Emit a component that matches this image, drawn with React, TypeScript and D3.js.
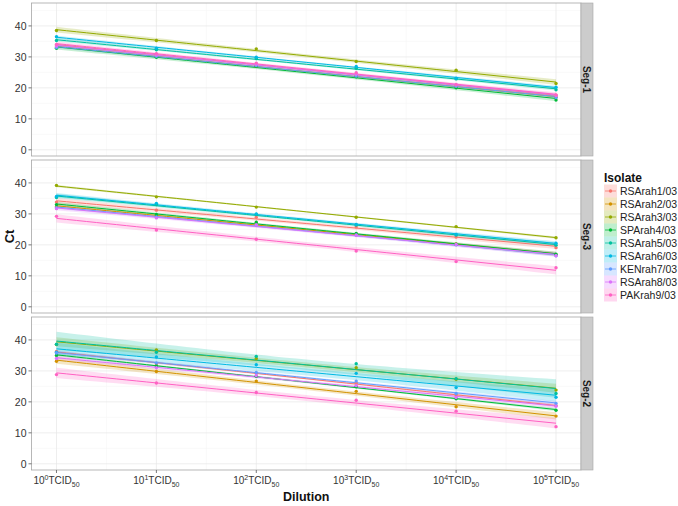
import React from "react";
import * as d3 from "d3";

const DILUTION_EXP = [0, 1, 2, 3, 4, 5];
const TICK_EXP = ["0", "1", "2", "3", "4", "5"];
const Y_TICKS = [0, 10, 20, 30, 40];
const ISOLATES = [
  "RSArah1/03", "RSArah2/03", "RSArah3/03", "SPArah4/03", "RSArah5/03",
  "RSArah6/03", "KENrah7/03", "RSArah8/03", "PAKrah9/03",
];
const COLORS = [
  "#F8766D", "#D39200", "#93AA00", "#00BA38", "#00C19F",
  "#00B9E3", "#619CFF", "#DB72FB", "#FF61C3",
];
const SEGMENTS = ["Seg-1", "Seg-3", "Seg-2"];

// Ct values per isolate at dilutions 10^0..10^5
const seg1Ct = [
  [33.8, 30.8, 27.5, 24.3, 20.8, 17.6],
  [33.2, 30.2, 27.0, 23.8, 20.4, 17.0],
  [38.5, 35.3, 32.6, 28.5, 25.7, 21.4],
  [32.8, 29.9, 27.0, 23.6, 20.0, 16.1],
  [35.3, 32.3, 29.5, 26.3, 22.9, 19.4],
  [36.5, 32.8, 29.9, 26.9, 23.1, 20.2],
  [33.0, 30.2, 27.2, 23.8, 20.5, 16.9],
  [33.5, 30.6, 27.6, 24.4, 21.0, 17.5],
  [34.0, 31.0, 28.0, 24.9, 21.0, 17.7],
];
const seg3Ct = [
  [33.8, 31.2, 28.9, 25.8, 22.5, 19.1],
  [32.3, 29.5, 26.8, 23.5, 20.3, 16.8],
  [39.2, 35.5, 32.2, 28.9, 25.9, 22.3],
  [33.0, 29.8, 27.3, 23.7, 20.2, 17.0],
  [35.3, 33.0, 29.8, 26.4, 23.2, 19.9],
  [35.6, 33.4, 30.0, 26.6, 23.4, 20.5],
  [32.0, 29.0, 26.4, 23.2, 20.0, 16.5],
  [31.7, 28.7, 26.4, 23.1, 20.1, 16.5],
  [29.2, 24.8, 21.8, 18.0, 14.6, 12.6],
];
const seg2Ct = [
  [36.3, 32.3, 29.2, 26.0, 22.2, 18.8],
  [33.1, 29.8, 26.7, 23.4, 18.4, 15.4],
  [38.5, 36.8, 34.0, 31.0, 27.3, 23.8],
  [35.0, 31.6, 28.3, 24.9, 21.0, 17.3],
  [38.6, 36.0, 34.7, 32.3, 27.5, 22.7],
  [36.0, 34.5, 32.0, 29.2, 24.6, 21.5],
  [35.8, 32.6, 29.5, 26.7, 22.7, 19.5],
  [34.0, 31.0, 28.5, 25.3, 21.4, 18.6],
  [28.8, 26.1, 23.0, 20.5, 17.0, 12.0],
];
const PANEL_DATA = [seg1Ct, seg3Ct, seg2Ct];

const T_975: Record<number, number> = { 1: 12.706, 2: 4.303, 3: 3.182, 4: 2.776, 5: 2.571, 6: 2.447, 7: 2.365, 8: 2.306 };

function fit(xs: number[], ys: number[]) {
  const n = xs.length;
  const mx = d3.mean(xs)!;
  const my = d3.mean(ys)!;
  let sxx = 0, sxy = 0;
  xs.forEach((x, i) => { sxx += (x - mx) ** 2; sxy += (x - mx) * (ys[i] - my); });
  const b = sxy / sxx;
  const a = my - b * mx;
  let sse = 0;
  xs.forEach((x, i) => { sse += (ys[i] - (a + b * x)) ** 2; });
  const s = Math.sqrt(sse / (n - 2));
  const t = T_975[n - 2] || 2.0;
  const grid = d3.range(0, 5.0001, 0.1);
  return grid.map((x) => {
    const yhat = a + b * x;
    const se = s * Math.sqrt(1 / n + (x - mx) ** 2 / sxx);
    return { x, y: yhat, lo: yhat - t * se, hi: yhat + t * se };
  });
}

const FONT = "Liberation Sans, Arial, sans-serif";
const PL = 31.5, PR = 581, STRIP_W = 12;
const PANEL_TOPS = [3, 160, 317];
const PANEL_H = 153;

export default function App() {
  const x = d3.scaleLinear().domain([-0.25, 5.25]).range([PL, PR]);
  const area = d3.area<any>().x((d) => x(d.x));
  const line = d3.line<any>().x((d) => x(d.x));
  const lastBottom = PANEL_TOPS[2] + PANEL_H;

  return (
    <svg width={678} height={506} style={{ position: "absolute", left: 0, top: 0, background: "#fff" }} fontFamily={FONT}>
      <rect x={0} y={0} width={678} height={506} fill="#fff" />
      {PANEL_DATA.map((panel, pi) => {
        const top = PANEL_TOPS[pi];
        const y = d3.scaleLinear().domain([-2, 47.4]).range([top + PANEL_H, top]);
        area.y0((d) => y(d.lo)).y1((d) => y(d.hi));
        line.y((d) => y(d.y));
        const fits = panel.map((vals) => fit(DILUTION_EXP, vals));
        const minorX = d3.range(-0.5, 5.6, 1).filter((v) => v > -0.25 && v < 5.25);
        const minorY = [5, 15, 25, 35, 45];
        return (
          <g key={pi}>
            <rect x={PL} y={top} width={PR - PL} height={PANEL_H} fill="#fff" />
            {minorX.map((v) => (
              <line key={"mx" + v} x1={x(v)} x2={x(v)} y1={top} y2={top + PANEL_H} stroke="#F5F5F5" strokeWidth={0.6} />
            ))}
            {minorY.map((v) => (
              <line key={"my" + v} x1={PL} x2={PR} y1={y(v)} y2={y(v)} stroke="#F5F5F5" strokeWidth={0.6} />
            ))}
            {DILUTION_EXP.map((v) => (
              <line key={"gx" + v} x1={x(v)} x2={x(v)} y1={top} y2={top + PANEL_H} stroke="#E6E6E6" strokeWidth={0.7} />
            ))}
            {Y_TICKS.map((v) => (
              <line key={"gy" + v} x1={PL} x2={PR} y1={y(v)} y2={y(v)} stroke="#E6E6E6" strokeWidth={0.7} />
            ))}
            {fits.map((f, i) => (
              <path key={"b" + i} d={area(f) || ""} fill={COLORS[i]} fillOpacity={0.22} stroke="none" />
            ))}
            {fits.map((f, i) => (
              <path key={"l" + i} d={line(f) || ""} fill="none" stroke={COLORS[i]} strokeWidth={1} />
            ))}
            {panel.map((vals, i) =>
              vals.map((v, j) => (
                <circle key={"p" + i + "-" + j} cx={x(DILUTION_EXP[j])} cy={y(v)} r={1.7} fill={COLORS[i]} />
              ))
            )}
            <rect x={PL} y={top} width={PR - PL} height={PANEL_H} fill="none" stroke="#A6A6A6" strokeWidth={0.8} />
            {/* strip */}
            <rect x={PR} y={top} width={STRIP_W} height={PANEL_H} fill="#CCCCCC" stroke="#A6A6A6" strokeWidth={0.6} />
            <text
              transform={`translate(${PR + STRIP_W / 2 - 3.6},${top + PANEL_H / 2}) rotate(90)`}
              textAnchor="middle"
              fontSize={10}
              fontWeight="bold"
              fill="#1A1A1A"
            >
              {SEGMENTS[pi]}
            </text>
            {/* y axis */}
            {Y_TICKS.map((v) => (
              <g key={"yt" + v}>
                <line x1={PL - 3} x2={PL} y1={y(v)} y2={y(v)} stroke="#555" strokeWidth={0.8} />
                <text x={PL - 5} y={y(v) + 3.8} textAnchor="end" fontSize={10.5} fill="#333">
                  {v}
                </text>
              </g>
            ))}
          </g>
        );
      })}
      {/* x axis */}
      {DILUTION_EXP.map((v, i) => (
        <g key={"xt" + v}>
          <line x1={x(v)} x2={x(v)} y1={lastBottom} y2={lastBottom + 3} stroke="#555" strokeWidth={0.8} />
          <text x={x(v)} y={lastBottom + 14} textAnchor="middle" fontSize={10} fill="#333">
            10
            <tspan dy={-4} fontSize={7}>{TICK_EXP[i]}</tspan>
            <tspan dy={4} fontSize={10}>TCID</tspan>
            <tspan dy={3} fontSize={7}>50</tspan>
          </text>
        </g>
      ))}
      <text x={(PL + PR) / 2} y={501} textAnchor="middle" fontSize={12.5} fontWeight="bold" fill="#111">
        Dilution
      </text>
      <text transform={`translate(14,${(PANEL_TOPS[0] + lastBottom) / 2}) rotate(-90)`} textAnchor="middle" fontSize={13} fontWeight="bold" fill="#111">
        Ct
      </text>
      {/* legend */}
      <text x={604} y={182} fontSize={12} fontWeight="bold" fill="#111">
        Isolate
      </text>
      {ISOLATES.map((name, i) => {
        const cy = 191 + i * 13;
        return (
          <g key={name}>
            <rect x={604} y={cy - 6.5} width={13} height={13} fill={COLORS[i]} fillOpacity={0.25} />
            <line x1={605} x2={616} y1={cy} y2={cy} stroke={COLORS[i]} strokeWidth={0.8} />
            <circle cx={610.5} cy={cy} r={1.7} fill={COLORS[i]} />
            <text x={620} y={cy + 3.8} fontSize={10.5} fill="#222">
              {name}
            </text>
          </g>
        );
      })}
    </svg>
  );
}
